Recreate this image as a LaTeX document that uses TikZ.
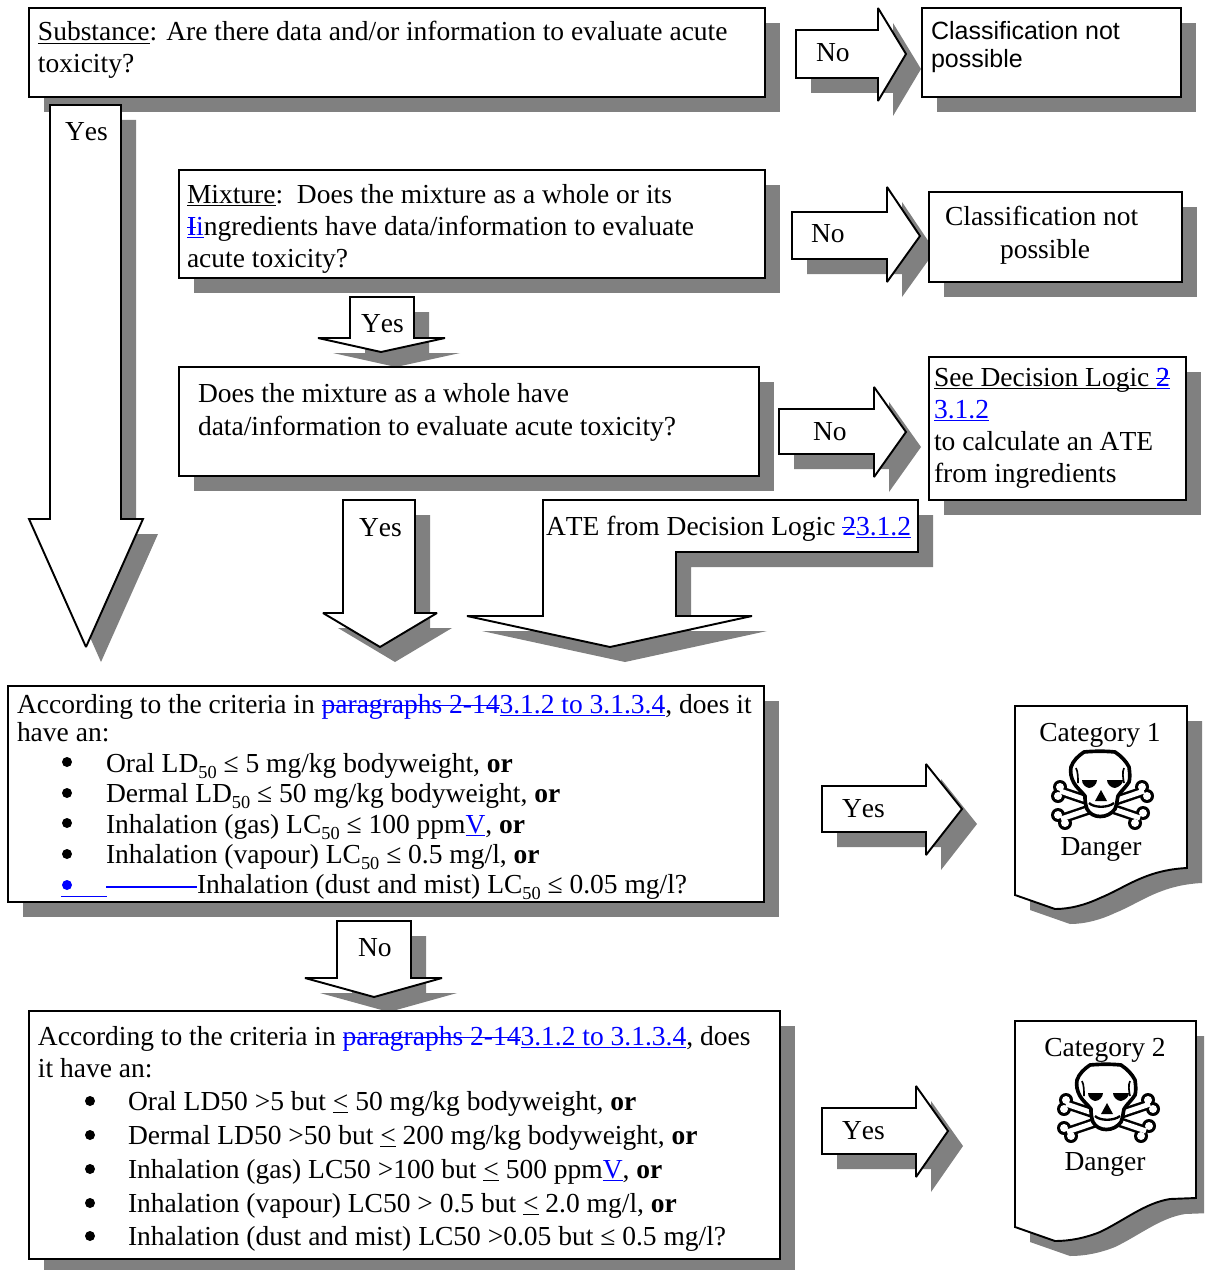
\documentclass[tikz,border=0pt]{standalone}
\usepackage{fontspec}
\setmainfont[Kerning=Off,Ligatures={NoCommon}]{Liberation Serif}
\newfontfamily\arialfont[Kerning=Off,Ligatures={NoCommon}]{Liberation Sans}
\definecolor{shadowc}{HTML}{808080}
\definecolor{linkc}{HTML}{0000FF}
\newcommand\blockshape[1]{\fill[shadowc,shift={(15,15)}] #1; \draw[shapeline] #1;}
\newcommand\lsub[1]{\raisebox{-0.22em}{\fontsize{11}{12}\selectfont #1}}
\newcommand\uln[1]{{\setbox0=\hbox{#1}\rlap{\copy0}\rlap{\rule[-1.7pt]{\wd0}{0.7pt}}\kern\wd0}}
\newcommand\sot[1]{{\setbox0=\hbox{#1}\rlap{\copy0}\rlap{\rule[4.2pt]{\wd0}{0.9pt}}\kern\wd0}}
\newcommand\lnk[1]{{\color{linkc}\uln{#1}}}
\newcommand\del[1]{{\color{linkc}\sot{#1}}}
\newcommand\dellnk[1]{{\color{linkc}\rlap{\sot{#1}}\uln{#1}}}
\newcommand\uleq{\underline{<}}
\newcommand\skullmark[2]{%
\begin{scope}[shift={(#1,#2)}]
 \draw[black,line width=6pt] (-40,1)--(40,28);
 \draw[black,line width=6pt] (44,1)--(-39,29);
 \foreach \cx/\cy in {-40/-3,-42/6,42/-3,47/6,-42/25,-35/33,43/23,35/33}{
  \fill[black] (\cx,\cy) circle[radius=7];
 }
 \foreach \cx/\cy in {-40/-3,-42/6,42/-3,47/6,-42/25,-35/33,43/23,35/33}{
  \fill[white] (\cx,\cy) circle[radius=4];
 }
 \draw[white,line width=3pt] (-40,1)--(40,28);
 \draw[white,line width=3pt] (44,1)--(-39,29);
 \draw[black,line width=2.2pt,fill=white,line join=round]
   (-16,-38)..controls (-6,-39) and (6,-39)..(15,-38)
   ..controls (21,-34) and (26,-29)..(29,-23)
   ..controls (30,-16) and (30,-12)..(29,-8)
   ..controls (26,-3) and (21,1)..(18,6)
   ..controls (17,10) and (17,14)..(15,19)
   ..controls (8,29) and (-8,29)..(-13,19)
   ..controls (-15,14) and (-15,9)..(-15,6)
   ..controls (-19,1) and (-24,-3)..(-26,-7)
   ..controls (-29,-12) and (-30,-18)..(-29,-23)
   ..controls (-27,-29) and (-22,-34)..(-16,-38)--cycle;
 \draw[black,line width=1pt] (-24,-22)..controls (-22,-18) and (-22,-12)..(-22,-7);
 \draw[black,line width=1pt] (24,-22)..controls (22,-18) and (23,-12)..(24,-7);
 \fill[black] (-18,-10)--(-3,-10)..controls (-3,-6) and (-7,-2)..(-11,-2)..controls (-15,-3) and (-18,-6)..(-18,-10)--cycle;
 \fill[black] (7,-10)--(23,-10)..controls (23,-6) and (19,-3)..(15,-2)..controls (11,-2) and (7,-6)..(7,-10)--cycle;
 \fill[black] (1,0)--(-5,11)--(7,11)--cycle;
 \draw[black,line width=1.4pt] (-11,13)..controls (-6,18) and (8,18)..(14,13);
\end{scope}}
\tikzset{
 x=0.6pt,y=-0.6pt,
 shapeline/.style={draw=black,fill=white,line width=1.15pt,line join=miter,miter limit=2},
 txt/.style={anchor=base west,inner sep=0pt,outer sep=0pt,font=\fontsize{16.5}{18}\selectfont},
 sanstxt/.style={txt,font=\arialfont\fontsize{15}{17}\selectfont},
 ctxt/.style={txt,anchor=base},
 bul/.style={circle,fill=black,draw=none,inner sep=0pt,minimum size=6pt}
}
\begin{document}
\begin{tikzpicture}
\useasboundingbox (0,0) rectangle (1204,1270);
\clip (0,0) rectangle (1204,1270);
% top row
\blockshape{(29,8) rectangle (765,97)}
\blockshape{(50,105)--(121,105)--(121,519)--(143,519)--(86,647)--(29,519)--(50,519)--cycle}
\blockshape{(796,30)--(878,30)--(878,8)--(906,54)--(878,101)--(878,78)--(796,78)--cycle}
\blockshape{(922,8) rectangle (1181,97)}
\node[txt] (t1) at (38,41) {\uln{Substance}: Are there data and/or information to evaluate acute};
\node[txt] (t2) at (38,73) {toxicity?};
\node[txt] (no1) at (816,62) {No};
\node[sanstxt] (c1a) at (931,40) {Classification not};
\node[sanstxt] (c1b) at (931,68) {possible};
\node[txt] (y1) at (65,140) {Yes};
% mixture
\blockshape{(350,297)--(414,297)--(414,338)--(445,338)--(381,352)--(318,338)--(350,338)--cycle}
\blockshape{(179,170) rectangle (765,278)}
\blockshape{(792,212)--(887,212)--(887,187)--(920,236)--(887,282)--(887,259)--(792,259)--cycle}
\blockshape{(929,192) rectangle (1182,282)}
\node[txt] (m1) at (187,203) {\uln{Mixture}:\ \ Does the mixture as a whole or its};
\node[txt] (m2) at (187,235) {\dellnk{I}\lnk{i}ngredients have data/information to evaluate};
\node[txt] (m3) at (187,267) {acute toxicity?};
\node[txt] (no2) at (811,242) {No};
\node[txt] (c2a) at (945,225) {Classification not};
\node[txt] (c2b) at (1000,258) {possible};
\node[txt] (y2) at (361,332) {Yes};
% whole
\blockshape{(343,500)--(415,500)--(415,613)--(437,613)--(380,647)--(323,613)--(343,613)--cycle}
\blockshape{(543,500)--(918,500)--(918,552)--(676,552)--(676,616)--(752,616)--(610,647)--(467,616)--(543,616)--cycle}
\blockshape{(179,367) rectangle (759,476)}
\blockshape{(779,409)--(874,409)--(874,387)--(906,432)--(874,477)--(874,454)--(779,454)--cycle}
\blockshape{(929,357) rectangle (1186,500)}
\node[txt] (w1) at (198,402) {Does the mixture as a whole have};
\node[txt] (w2) at (198,435) {data/information to evaluate acute toxicity?};
\node[txt] (no3) at (813,440) {No};
\node[txt] (s1) at (934,386) {\uln{See Decision Logic\ }\dellnk{2}};
\node[txt] (s2) at (934,418) {\lnk{3.1.2}};
\node[txt] (s3) at (934,450) {to calculate an ATE};
\node[txt] (s4) at (934,482) {from ingredients};
\node[txt] (y3) at (359,536) {Yes};
\node[txt] (ate) at (546,535) {ATE from Decision Logic \del{2}\lnk{3.1.2}};
% category 1 criteria
\blockshape{(337,921)--(411,921)--(411,978)--(442,978)--(374,997)--(305,978)--(337,978)--cycle}
\blockshape{(8,686) rectangle (764,902)}
\blockshape{(822,786)--(926,786)--(926,764)--(962,809)--(926,855)--(926,832)--(822,832)--cycle}
\blockshape{(1015,706)--(1187,706)--(1187,868)..controls (1145,870) and (1125,888)..(1100,898)..controls (1085,905) and (1070,909)..(1055,909)--(1015,895)--cycle}
\node[txt] (a1) at (17,713) {According to the criteria in \del{paragraphs 2-14}\lnk{3.1.2 to 3.1.3.4}, does it};
\node[txt] (a2) at (17,741) {have an:};
\node[bul] (ab1) at (67,762) {};
\node[bul] (ab2) at (67,793) {};
\node[bul] (ab3) at (67,823) {};
\node[bul] (ab4) at (67,854) {};
\node[bul,fill=linkc] (ab5) at (67,885) {};
\node[txt] (a3) at (106,772) {Oral LD\lsub{50} ≤ 5 mg/kg bodyweight, \textbf{or}};
\node[txt] (a4) at (106,802) {Dermal LD\lsub{50} ≤ 50 mg/kg bodyweight, \textbf{or}};
\node[txt] (a5) at (106,833) {Inhalation (gas) LC\lsub{50} ≤ 100 ppm\lnk{V}, \textbf{or}};
\node[txt] (a6) at (106,863) {Inhalation (vapour) LC\lsub{50} ≤ 0.5 mg/l, \textbf{or}};
\node[txt] (a7) at (197,893) {Inhalation (dust and mist) LC\lsub{50} ≤ 0.05 mg/l?};
\draw[linkc,line width=1pt] (ab5.center)+(-6,11.5)--+(40,11.5);
\draw[linkc,line width=1.2pt] (106,887)--(a7.base west|-106,887);
\node[txt] (y4) at (842,817) {Yes};
\node[ctxt] (k1) at (1100,741) {Category 1};
\skullmark{1100}{790}
\node[ctxt] (d1) at (1101,855) {Danger};
\node[txt] (no4) at (358,956) {No};
% category 2 criteria
\blockshape{(29,1011) rectangle (780,1259)}
\blockshape{(822,1108)--(916,1108)--(916,1086)--(948,1131)--(916,1177)--(916,1154)--(822,1154)--cycle}
\blockshape{(1015,1021)--(1196,1021)--(1196,1198)--(1170,1199)..controls (1145,1203) and (1125,1220)..(1100,1232)..controls (1085,1238) and (1070,1241)..(1055,1241)--(1015,1227)--cycle}
\node[txt] (b1) at (38,1045) {According to the criteria in \del{paragraphs 2-14}\lnk{3.1.2 to 3.1.3.4}, does};
\node[txt] (b2) at (38,1077) {it have an:};
\node[bul] (bb1) at (90,1101) {};
\node[bul] (bb2) at (90,1135) {};
\node[bul] (bb3) at (90,1169) {};
\node[bul] (bb4) at (90,1203) {};
\node[bul] (bb5) at (90,1236) {};
\node[txt] (b3) at (128,1110) {Oral LD50 >5 but \uleq{} 50 mg/kg bodyweight, \textbf{or}};
\node[txt] (b4) at (128,1144) {Dermal LD50 >50 but \uleq{} 200 mg/kg bodyweight, \textbf{or}};
\node[txt] (b5) at (128,1178) {Inhalation (gas) LC50 >100 but \uleq{} 500 ppm\lnk{V}, \textbf{or}};
\node[txt] (b6) at (128,1212) {Inhalation (vapour) LC50 > 0.5 but \uleq{} 2.0 mg/l, \textbf{or}};
\node[txt] (b7) at (128,1245) {Inhalation (dust and mist) LC50 >0.05 but ≤ 0.5 mg/l?};
\node[txt] (y5) at (842,1139) {Yes};
\node[ctxt] (k2) at (1105,1056) {Category 2};
\skullmark{1106}{1103}
\node[ctxt] (d2) at (1105,1170) {Danger};
\end{tikzpicture}
\end{document}
